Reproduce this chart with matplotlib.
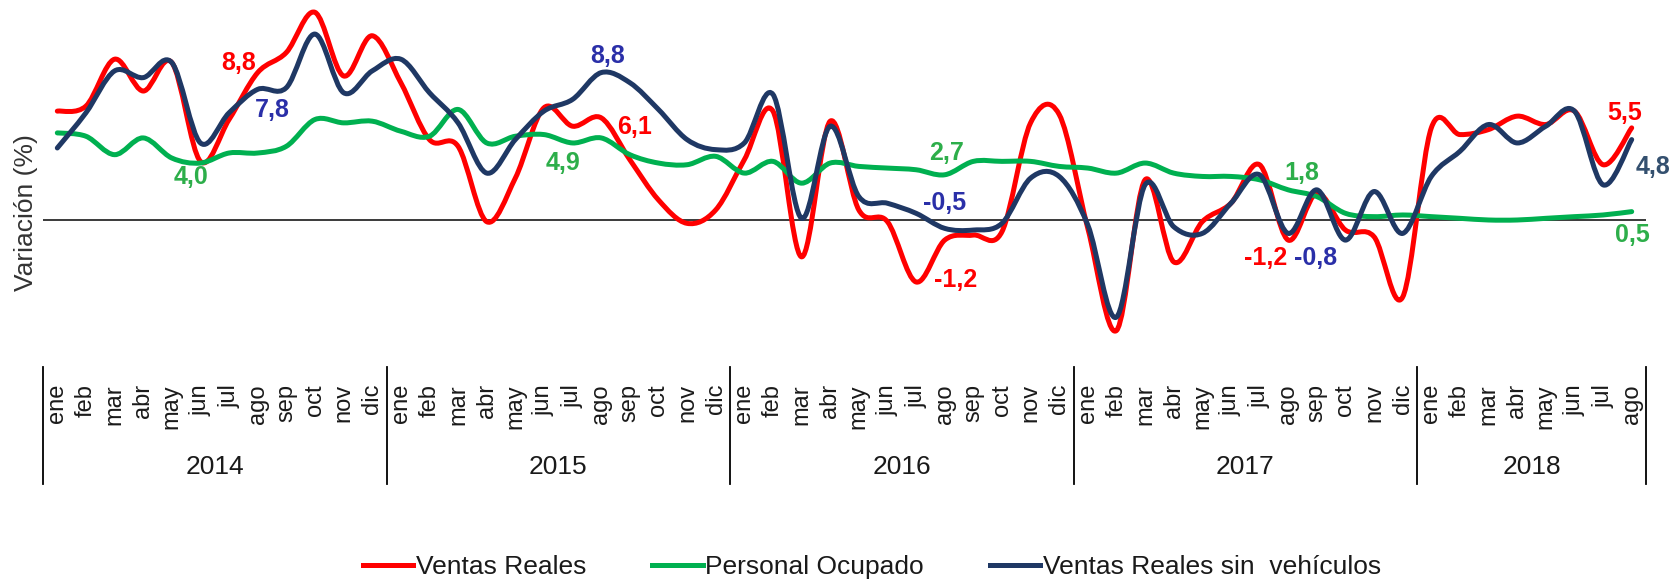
import matplotlib
matplotlib.use('Agg')
import matplotlib.pyplot as plt
from matplotlib.path import Path
from matplotlib.patches import PathPatch
from matplotlib.lines import Line2D
import matplotlib.transforms as mtransforms

plt.rcParams['font.family'] = ['Liberation Sans', 'DejaVu Sans']

# ---------------- data ----------------
years = ['2014', '2015', '2016', '2017', '2018']
months_per_year = [12, 12, 12, 12, 8]
month_names = ['ene', 'feb', 'mar', 'abr', 'may', 'jun',
               'jul', 'ago', 'sep', 'oct', 'nov', 'dic']

ventas_reales = [6.5, 6.8, 9.6, 7.7, 9.4, 3.5, 6.0, 8.8, 10.0, 12.4, 8.6, 11.0,
                 8.2, 4.8, 4.4, -0.1, 2.5, 6.7, 5.6, 6.1, 3.6, 1.2, -0.2, 0.6,
                 3.6, 6.5, -2.2, 5.9, 0.6, -0.1, -3.7, -1.2, -0.9, -0.7, 5.8, 6.3,
                 -0.5, -6.6, 2.4, -2.5, -0.1, 1.0, 3.3, -1.2, 1.6, -0.6, -1.0, -4.6,
                 5.5, 5.1, 5.4, 6.2, 5.7, 6.5, 3.3, 5.5]
personal_ocupado = [5.2, 5.0, 3.9, 4.9, 3.7, 3.4, 4.0, 4.0, 4.4, 6.0, 5.8, 5.9,
                    5.3, 5.0, 6.6, 4.6, 5.0, 5.1, 4.6, 4.9, 3.9, 3.4, 3.3, 3.8,
                    2.8, 3.5, 2.2, 3.4, 3.2, 3.1, 3.0, 2.7, 3.5, 3.5, 3.5, 3.2,
                    3.1, 2.8, 3.4, 2.8, 2.6, 2.6, 2.4, 1.8, 1.4, 0.4, 0.2, 0.3,
                    0.2, 0.1, 0.0, 0.0, 0.1, 0.2, 0.3, 0.5]
ventas_sin_vehiculos = [4.3, 6.4, 8.9, 8.5, 9.4, 4.6, 6.4, 7.8, 7.9, 11.1, 7.6, 8.9,
                        9.6, 7.6, 5.8, 2.8, 4.8, 6.5, 7.2, 8.8, 8.2, 6.6, 4.8, 4.2,
                        4.6, 7.5, 0.1, 5.6, 1.4, 1.0, 0.4, -0.5, -0.6, -0.2, 2.5, 2.6,
                        -0.3, -5.8, 2.1, -0.4, -0.8, 1.0, 2.7, -0.8, 1.8, -1.2, 1.7, -0.8,
                        2.6, 4.1, 5.7, 4.6, 5.6, 6.5, 2.1, 4.8]

series_names = ['Ventas Reales', 'Personal Ocupado', 'Ventas Reales sin  vehículos']
series_values = [ventas_reales, personal_ocupado, ventas_sin_vehiculos]
series_colors = ['#FF0000', '#00B050', '#1F3864']

# labelled points: (series index, month index); offsets in px (dx, dy down), colour
label_points = [(0, 7), (2, 7), (1, 7),
                (2, 19), (0, 19), (1, 19),
                (1, 31), (2, 31), (0, 31),
                (1, 43), (0, 43), (2, 43),
                (0, 55), (2, 55), (1, 55)]
label_offsets = [(-19, -10), (15, 21), (-67, 24),
                 (6, -17), (33, 9), (-38, 25),
                 (2, -22), (0, -25), (11, 40),
                 (14, -17), (-23, 18), (27, 25),
                 (-7, -15), (21, 27), (1, 23)]
label_colors = ['#FF0000', '#2A2FA8', '#2DAE4A',
                '#2A2FA8', '#FF0000', '#2DAE4A',
                '#2DAE4A', '#2A2FA8', '#FF0000',
                '#2DAE4A', '#FF0000', '#2A2FA8',
                '#FF0000', '#34506F', '#2DAE4A']

# ---------------- figure ----------------
W, H = 1673, 579
fig = plt.figure(figsize=(W / 100, H / 100), dpi=100)
ax = fig.add_axes([43 / W, 1 - 360 / H, (1646 - 43) / W, 360 / H])
n = sum(months_per_year)
ax.set_xlim(0, n)
ax.set_ylim((220 - 360) / 16.75, 220 / 16.75)
ax.axis('off')

ax.axhline(0, color='#3a3a3a', lw=1.4, zorder=1)


def smooth_path(xs, ys):
    verts = [(xs[0], ys[0])]
    codes = [Path.MOVETO]
    m = len(xs)
    for i in range(m - 1):
        xp, yp = (xs[i - 1], ys[i - 1]) if i > 0 else (xs[i], ys[i])
        xn2, yn2 = (xs[i + 2], ys[i + 2]) if i + 2 < m else (xs[i + 1], ys[i + 1])
        c1 = (xs[i] + (xs[i + 1] - xp) / 6.0, ys[i] + (ys[i + 1] - yp) / 6.0)
        c2 = (xs[i + 1] - (xn2 - xs[i]) / 6.0, ys[i + 1] - (yn2 - ys[i]) / 6.0)
        verts += [c1, c2, (xs[i + 1], ys[i + 1])]
        codes += [Path.CURVE4] * 3
    return Path(verts, codes)


xs = [i + 0.5 for i in range(n)]
for k, (vals, col) in enumerate(zip(series_values, series_colors)):
    p = smooth_path(xs, vals)
    patch = PathPatch(p, facecolor='none', edgecolor=col, lw=3.6,
                      capstyle='round', joinstyle='round', zorder=3 + k)
    ax.add_patch(patch)

# data labels
for (s, i), (dx, dy), col in zip(label_points, label_offsets, label_colors):
    v = series_values[s][i]
    txt = f"{v:.1f}".replace('.', ',')
    ax.annotate(txt, xy=(xs[i], v), xytext=(dx * 0.72, -dy * 0.72),
                textcoords='offset points', ha='center', va='center',
                fontsize=18, fontweight='bold', color=col, zorder=10,
                annotation_clip=False)

# category axis (months / years)
trans = mtransforms.blended_transform_factory(ax.transData, fig.transFigure)
bounds = [0]
for c in months_per_year:
    bounds.append(bounds[-1] + c)
for b in bounds:
    ax.plot([b, b], [1 - 367 / H, 1 - 484 / H], transform=trans, color='black',
            lw=1.3, clip_on=False)
idx = 0
for y, c in zip(years, months_per_year):
    for m in range(c):
        ax.text(idx + m + 0.5, 1 - 384 / H, month_names[m], transform=trans,
                rotation=90, ha='center', va='top', fontsize=17, color='#1a1a1a')
    ax.text(idx + c / 2.0, 1 - 467 / H, y, transform=trans, ha='center',
            va='center', fontsize=19, color='#1a1a1a')
    idx += c

fig.text(26 / W, 1 - 213 / H, 'Variación (%)', rotation=90, ha='center',
         va='center', fontsize=19, color='#333333')

handles = [Line2D([], [], color=c, lw=3.6) for c in series_colors]
fig.legend(handles, series_names, loc='center', bbox_to_anchor=(872 / W, 1 - 567 / H),
           ncol=3, frameon=False, fontsize=19, handlelength=1.9,
           handletextpad=0.1, columnspacing=2.5, labelcolor='#1a1a1a')

fig.savefig('out.png', dpi=100)
